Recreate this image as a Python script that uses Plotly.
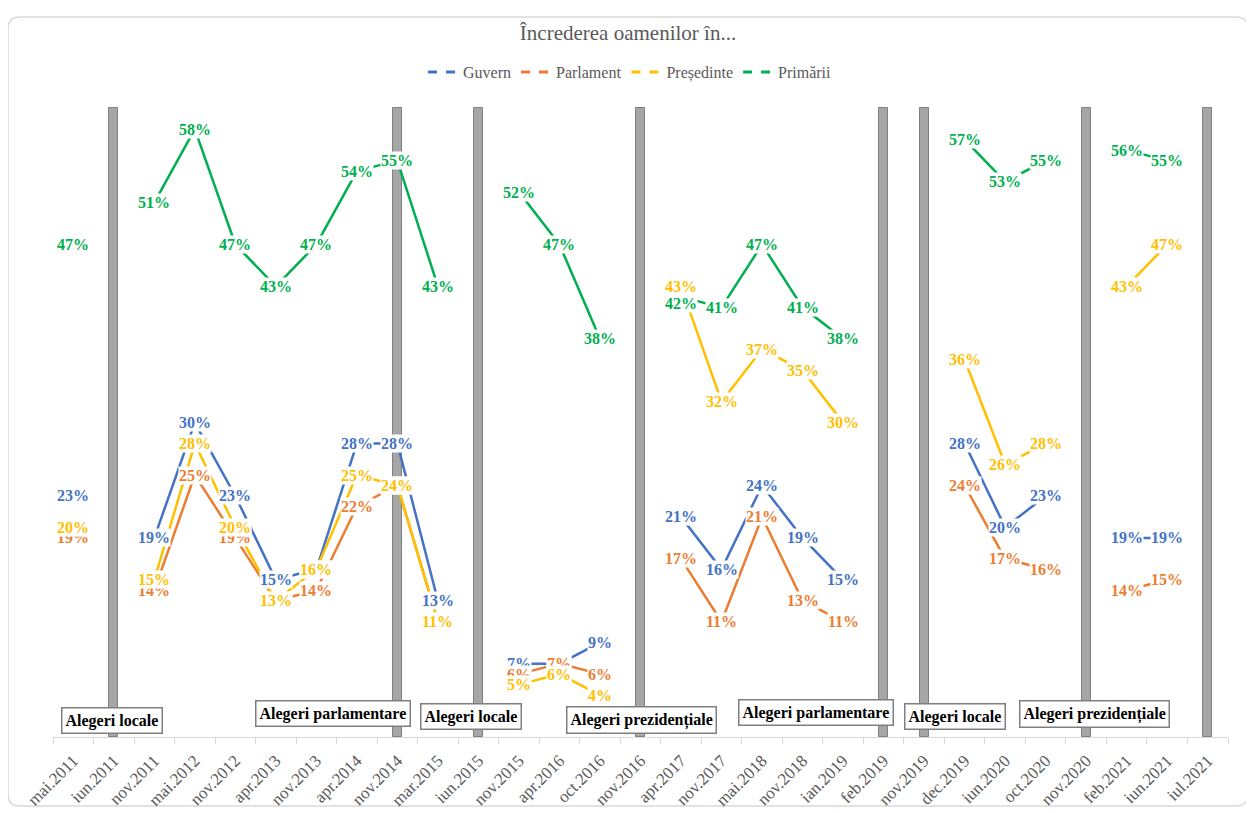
import plotly.graph_objects as go

categories = ["mai.2011", "iun.2011", "nov.2011", "mai.2012", "nov.2012", "apr.2013",
              "nov.2013", "apr.2014", "nov.2014", "mar.2015", "iun.2015", "nov.2015",
              "apr.2016", "oct.2016", "nov.2016", "apr.2017", "nov.2017", "mai.2018",
              "nov.2018", "ian.2019", "feb.2019", "nov.2019", "dec.2019", "iun.2020",
              "oct.2020", "nov.2020", "feb.2021", "iun.2021", "iul.2021"]

N = None
guvern = [23, N, 19, 30, 23, 15, 16, 28, 28, 13, N, 7, 7, 9, N, 21, 16, 24, 19, 15,
          N, N, 28, 20, 23, N, 19, 19, N]
parlament = [19, N, 14, 25, 19, 13, 14, 22, 24, 11, N, 6, 7, 6, N, 17, 11, 21, 13, 11,
             N, N, 24, 17, 16, N, 14, 15, N]
presedinte = [20, N, 15, 28, 20, 13, 16, 25, 24, 11, N, 5, 6, 4, N, 43, 32, 37, 35, 30,
              N, N, 36, 26, 28, N, 43, 47, N]
primarii = [47, N, 51, 58, 47, 43, 47, 54, 55, 43, N, 52, 47, 38, N, 42, 41, 47, 41, 38,
            N, N, 57, 53, 55, N, 56, 55, N]

series_names = ["Guvern", "Parlament", "Președinte", "Primării"]
series_values = [guvern, parlament, presedinte, primarii]
series_colors = ["#4472C4", "#ED7D31", "#FFC000", "#00B050"]

election_categories = ["iun.2011", "nov.2014", "iun.2015", "nov.2016", "feb.2019",
                       "nov.2019", "nov.2020", "iul.2021"]
election_bar_height = 60

election_labels = ["Alegeri locale", "Alegeri parlamentare", "Alegeri locale",
                   "Alegeri prezidențiale", "Alegeri parlamentare", "Alegeri locale",
                   "Alegeri prezidențiale"]

# small manual nudges of individual data labels (pixels), as in the original
label_nudges = {("Primării", "apr.2017"): -7}

SERIF = "Liberation Serif, Times New Roman, serif"

# page body has an 8px margin: figure pixel = viewport pixel - 8
OFF = 8
W, H = 1246, 805
L, R, T, B = 53, 1228, 103, 737   # plot area in viewport pixels

fig = go.Figure()

bar_y = [election_bar_height if c in election_categories else None for c in categories]
fig.add_trace(go.Bar(x=categories, y=bar_y, width=0.22,
                     marker=dict(color="#A6A6A6", line=dict(color="#808080", width=1)),
                     showlegend=False, hoverinfo="skip"))

for name, vals, col in zip(series_names, series_values, series_colors):
    fig.add_trace(go.Scatter(x=categories, y=vals, mode="lines",
                             line=dict(color=col, width=2.5),
                             connectgaps=False, showlegend=False, name=name))
for name, col in zip(series_names, series_colors):
    fig.add_trace(go.Scatter(x=[None], y=[None], mode="lines",
                             line=dict(color=col, width=3, dash="dash"),
                             name=name, showlegend=True))

annotations = []
for name, vals, col in zip(series_names, series_values, series_colors):
    for c, v in zip(categories, vals):
        if v is None:
            continue
        annotations.append(dict(x=c, y=v, xref="x", yref="y", text=f"{v}%",
                                xanchor="center", yanchor="middle",
                                yshift=label_nudges.get((name, c), 0),
                                showarrow=False, bgcolor="white", borderpad=0,
                                font=dict(family=SERIF, size=16, color=col, weight="bold")))

def px2paper(px, py):
    return (px - L) / (R - L), (B - py) / (B - T)

# election text boxes (viewport pixel centres converted to paper coords)
box_px = [(112, 720), (333, 713), (471, 716), (641, 720), (816, 712), (955, 716), (1094, 714)]
for text, (px, py) in zip(election_labels, box_px):
    bx, by = px2paper(px, py)
    annotations.append(dict(x=bx, y=by, xref="paper", yref="paper",
                            xanchor="center", yanchor="middle",
                            text=text, showarrow=False, bgcolor="white",
                            bordercolor="#7F7F7F", borderwidth=1.5, borderpad=3,
                            font=dict(family=SERIF, size=16, color="black", weight="bold")))

# rounded frame
x0, y0 = px2paper(8, 17)
x1, y1 = px2paper(1248, 806)
rx = 12 / (R - L)
ry = 12 / (B - T)
path = (f"M {x0+rx},{y0} L {x1-rx},{y0} Q {x1},{y0} {x1},{y0-ry} "
        f"L {x1},{y1+ry} Q {x1},{y1} {x1-rx},{y1} "
        f"L {x0+rx},{y1} Q {x0},{y1} {x0},{y1+ry} "
        f"L {x0},{y0-ry} Q {x0},{y0} {x0+rx},{y0} Z")

fig.update_layout(
    width=W, height=H,
    margin=dict(l=L - OFF, r=W + OFF - R, t=T - OFF, b=H + OFF - B, autoexpand=False),
    paper_bgcolor="white", plot_bgcolor="white",
    title=dict(text="Încrederea oamenilor în...", x=(628 - OFF) / W, xanchor="center",
               y=1 - (33 - OFF) / H, yanchor="middle",
               font=dict(family=SERIF, size=21, color="#595959")),
    legend=dict(orientation="h", x=(630 - L) / (R - L), xanchor="center",
                y=(B - 72) / (B - T), yanchor="middle",
                font=dict(family=SERIF, size=16, color="#595959"),
                itemwidth=30, tracegroupgap=0),
    xaxis=dict(type="category", categoryorder="array", categoryarray=categories,
               range=[-0.5, len(categories) - 0.5], tickson="boundaries",
               ticks="outside", ticklen=6, tickcolor="#D9D9D9", showline=True,
               linecolor="#D9D9D9", linewidth=1, showgrid=False, tickangle=-45,
               automargin=False, ticklabelstandoff=6,
               tickfont=dict(family=SERIF, size=17, color="#595959")),
    yaxis=dict(range=[0, 60.5], visible=False, showgrid=False, automargin=False),
    showlegend=True,
    annotations=annotations,
    shapes=[dict(type="path", path=path, xref="paper", yref="paper",
                 line=dict(color="#D9D9D9", width=1.5), layer="below")],
    bargap=0,
)

fig.write_html("out.html")
